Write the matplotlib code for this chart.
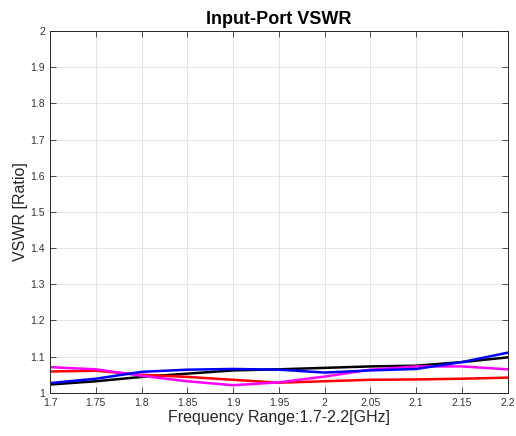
import matplotlib
matplotlib.use('Agg')
import matplotlib.pyplot as plt

# frequencias (GHz) e VSWR
freq = [1.7, 1.75, 1.8, 1.85, 1.9, 1.95, 2.0, 2.05, 2.1, 2.15, 2.2]
vswr_black = [1.023, 1.032, 1.044, 1.053, 1.062, 1.065, 1.069, 1.073, 1.075, 1.085, 1.098]
vswr_blue = [1.027, 1.039, 1.058, 1.064, 1.066, 1.064, 1.056, 1.062, 1.066, 1.085, 1.111]
vswr_red = [1.059, 1.061, 1.050, 1.044, 1.036, 1.028, 1.032, 1.036, 1.037, 1.039, 1.042]
vswr_magenta = [1.071, 1.065, 1.047, 1.032, 1.021, 1.029, 1.045, 1.064, 1.073, 1.073, 1.065]

xticks = [1.7, 1.75, 1.8, 1.85, 1.9, 1.95, 2.0, 2.05, 2.1, 2.15, 2.2]
xlabels = ['1.7', '1.75', '1.8', '1.85', '1.9', '1.95', '2', '2.05', '2.1', '2.15', '2.2']
yticks = [1.0, 1.1, 1.2, 1.3, 1.4, 1.5, 1.6, 1.7, 1.8, 1.9, 2.0]
ylabels = ['1', '1.1', '1.2', '1.3', '1.4', '1.5', '1.6', '1.7', '1.8', '1.9', '2']

plt.rcParams['font.family'] = ['Liberation Sans', 'DejaVu Sans']

fig = plt.figure(figsize=(5.16, 4.36), dpi=100)
ax = fig.add_axes([0.097, 0.099, 0.887, 0.83])

ax.plot(freq, vswr_black, color='black', lw=1.8)
ax.plot(freq, vswr_red, color='#ff0000', lw=1.8)
ax.plot(freq, vswr_magenta, color='#ff00ff', lw=1.8)
ax.plot(freq, vswr_blue, color='#0000ff', lw=1.8)

ax.set_xlim(1.7, 2.2)
ax.set_ylim(1, 2)
ax.set_xticks(xticks)
ax.set_xticklabels(xlabels)
ax.set_yticks(yticks)
ax.set_yticklabels(ylabels)
ax.tick_params(direction='in', top=True, right=True, labelsize=7.5,
               colors='#333333', length=4, width=0.6)
ax.grid(True, color='#e0e0e0', lw=0.6)
for s in ax.spines.values():
    s.set_color('#262626')
    s.set_linewidth(0.7)

ax.set_title('Input-Port VSWR', fontsize=13, fontweight='bold', pad=5)
ax.set_xlabel('Frequency Range:1.7-2.2[GHz]', fontsize=11.5, color='#262626', labelpad=2)
ax.set_ylabel('VSWR [Ratio]', fontsize=11.5, color='#262626', labelpad=2)

fig.savefig('out.png', dpi=100)
